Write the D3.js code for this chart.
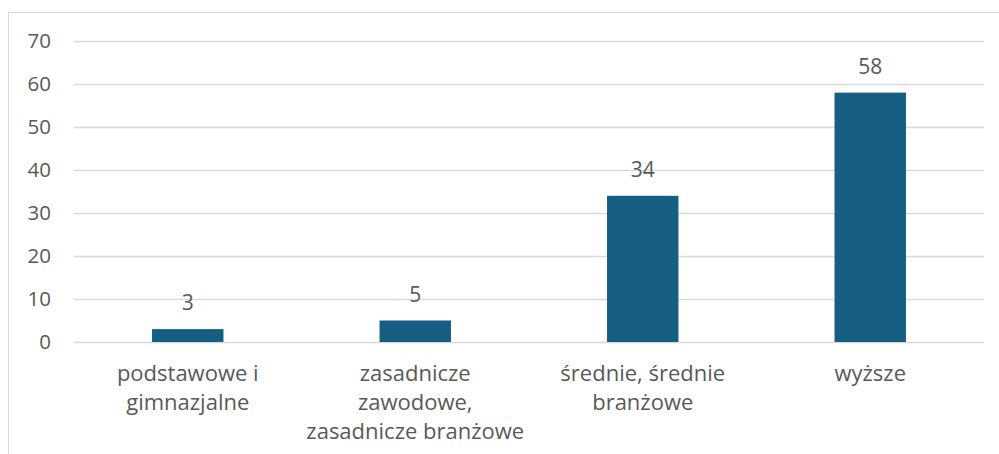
<!DOCTYPE html>
<html>
<head>
<meta charset="utf-8">
<script src="https://cdn.jsdelivr.net/npm/d3@7"></script>
<style>
  body { margin: 0; background: #fff; }
  svg text { font-family: "Open Sans", sans-serif; fill: #595959; }
</style>
</head>
<body>
<svg id="chart" width="999" height="454"></svg>
<script>
// categories (split into label lines) and values
const categories = [
  ['podstawowe i', 'gimnazjalne'],
  ['zasadnicze', 'zawodowe,', 'zasadnicze branżowe'],
  ['średnie, średnie', 'branżowe'],
  ['wyższe']
];
const values = [3, 5, 34, 58];
const yTicks = [0, 10, 20, 30, 40, 50, 60, 70];

const svg = d3.select('#chart');

/** Chart frame (cut off right and bottom) */
svg.append('rect')
  .attr('x', 8.5).attr('y', 12.5)
  .attr('width', 1000).attr('height', 500)
  .attr('fill', 'none')
  .attr('stroke', '#d9d9d9');

const x = d3.scaleBand()
  .domain(d3.range(values.length))
  .range([74, 984])
  .paddingInner(0.686)
  .paddingOuter(0.343);

const y = d3.scaleLinear()
  .domain([0, 70])
  .range([342, 41]);

/** Gridlines */
svg.append('g')
  .selectAll('line')
  .data(yTicks)
  .enter()
  .append('line')
  .attr('x1', 74).attr('x2', 984)
  .attr('y1', d => Math.round(y(d)) + 0.5)
  .attr('y2', d => Math.round(y(d)) + 0.5)
  .attr('stroke', '#d9d9d9')
  .attr('stroke-width', 1.3);

/** Y axis labels */
const yAxis = svg.append('g')
  .attr('transform', 'translate(51,0)')
  .call(d3.axisLeft(y).tickValues(yTicks).tickSize(0).tickPadding(0));
yAxis.select('.domain').remove();
yAxis.selectAll('text')
  .attr('font-size', 20.5)
  .attr('font-family', '"Open Sans", sans-serif')
  .attr('fill', '#595959');

/** Bars */
svg.append('g')
  .selectAll('rect')
  .data(values)
  .enter()
  .append('rect')
  .attr('x', (d, i) => x(i))
  .attr('y', d => y(d))
  .attr('width', x.bandwidth())
  .attr('height', d => y(0) - y(d))
  .attr('fill', '#175f82');

/** Value labels */
svg.append('g')
  .selectAll('text')
  .data(values)
  .enter()
  .append('text')
  .attr('x', (d, i) => x(i) + x.bandwidth() / 2)
  .attr('y', d => y(d) - 19)
  .attr('text-anchor', 'middle')
  .attr('font-size', 21)
  .text(d => d);

/** Category labels */
const cat = svg.append('g')
  .selectAll('text')
  .data(categories)
  .enter()
  .append('text')
  .attr('text-anchor', 'middle')
  .attr('font-size', 22);

cat.selectAll('tspan')
  .data((d, i) => d.map(line => ({ line, i })))
  .enter()
  .append('tspan')
  .attr('x', d => x(d.i) + x.bandwidth() / 2)
  .attr('y', (d, j) => 381 + j * 29)
  .text(d => d.line);
</script>
</body>
</html>
